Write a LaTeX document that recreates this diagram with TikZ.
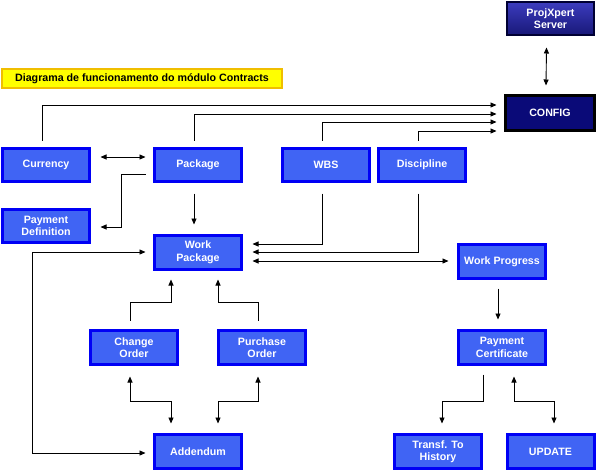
\documentclass[tikz,border=0pt]{standalone}
\usepackage{fontspec}
\setmainfont{Liberation Sans}
\usetikzlibrary{arrows.meta}
\definecolor{boxfill}{RGB}{64,100,244}
\definecolor{boxline}{RGB}{0,0,245}
\definecolor{navy}{RGB}{10,10,120}
\definecolor{srvtop}{RGB}{60,60,190}
\definecolor{srvbot}{RGB}{24,24,120}
\definecolor{titlefill}{RGB}{255,255,0}
\definecolor{titleline}{RGB}{240,190,0}
\tikzset{
  blk/.style={draw=boxline, fill=boxfill, line width=3pt, minimum width=87pt, minimum height=33pt,
    inner sep=0pt, align=center, text=white, font=\fontsize{10.67}{12.5}\selectfont\bfseries},
  blkt/.style={blk, minimum height=34pt},
  arr/.style={-{Triangle[length=6pt,width=5pt]}, line width=0.9pt},
  darr/.style={{Triangle[length=6pt,width=5pt]}-{Triangle[length=6pt,width=5pt]}, line width=0.9pt},
  ln/.style={line width=0.9pt}
}
\begin{document}
\begin{tikzpicture}[x=1pt,y=-1pt]
\useasboundingbox (0,0) rectangle (596,471);
% title
\node[draw=titleline, fill=titlefill, line width=2pt, minimum width=280pt, minimum height=19pt, inner sep=0pt,
  font=\fontsize{10.67}{12.5}\selectfont\bfseries] (title) at (142,78.5) {Diagrama de funcionamento do módulo Contracts};
% server and config
\node[draw=black!80!blue, top color=srvtop, bottom color=srvbot, line width=2pt, minimum width=87pt, minimum height=33pt,
  inner sep=0pt, align=center, text=white, font=\fontsize{10.67}{12.5}\selectfont\bfseries] (projx) at (550.5,18.5) {ProjXpert\\Server};
\node[draw=black, fill=navy, line width=3pt, minimum width=89pt, minimum height=35pt, inner sep=0pt,
  text=white, font=\fontsize{10.67}{12.5}\selectfont\bfseries] (config) at (550,113) {CONFIG};
% blue boxes
\node[blk] (currency) at (46,165) {Currency};
\node[blk] (package) at (198,165) {Package};
\node[blk] (wbs) at (326,165) {WBS};
\node[blk] (discipline) at (422,165) {Discipline};
\node[blk] (paydef) at (46,226) {Payment\\Definition};
\node[blkt] (workpkg) at (198,252.5) {Work\\Package};
\node[blkt] (workprog) at (502,261.5) {Work Progress};
\node[blkt] (change) at (134,347.5) {Change\\Order};
\node[blkt] (purchase) at (262,347.5) {Purchase\\Order};
\node[blkt] (paycert) at (502,347.5) {Payment\\Certificate};
\node[blkt] (addendum) at (198,451.5) {Addendum};
\node[blkt] (transf) at (438,451.5) {Transf. To\\History};
\node[blkt] (update) at (550.5,451.5) {UPDATE};
% connectors to CONFIG
\draw[arr] ([shift={(-4,-6.5)}]currency.north) |- ([shift={(-7.5,-8)}]config.west);
\draw[arr] ([shift={(-4,-6.5)}]package.north) |- ([shift={(-7.5,1)}]config.west);
\draw[arr] ([shift={(-4,-6.5)}]wbs.north) |- ([shift={(-7.5,9)}]config.west);
\draw[arr] ([shift={(-4,-6.5)}]discipline.north) |- ([shift={(-7.5,18)}]config.west);
\draw[darr] ([shift={(-4,11.5)}]projx.south) -- ([shift={(-4,-8.5)}]config.north);
% top row
\draw[darr] ([shift={(9.5,-8)}]currency.east) -- ([shift={(-7.5,-8)}]package.west);
\draw[arr] ([shift={(-7.5,9)}]package.west) -- ++(-24,0) |- ([shift={(9.5,1)}]paydef.east);
\draw[arr] ([shift={(-4,10.5)}]package.south) -- ([shift={(-4,-9.5)}]workpkg.north);
\draw[arr] ([shift={(-4,10.5)}]wbs.south) |- ([shift={(9.5,-8.5)}]workpkg.east);
\draw[arr] ([shift={(-4,10.5)}]discipline.south) |- ([shift={(9.5,-0.5)}]workpkg.east);
\draw[darr] ([shift={(9.5,8.5)}]workpkg.east) -- ([shift={(-8.5,-0.5)}]workprog.west);
\draw[darr] ([shift={(-7.5,-0.5)}]workpkg.west) -- ++(-113,0) |- ([shift={(-7.5,1.5)}]addendum.west);
% orders
\draw[arr] ([shift={(-4,-8.5)}]change.north) -- ++(0,-18) -| ([shift={(-27,8.5)}]workpkg.south);
\draw[arr] ([shift={(-4,-8.5)}]purchase.north) -- ++(0,-18) -| ([shift={(20,8.5)}]workpkg.south);
\draw[darr] ([shift={(-4,10.5)}]change.south) -- ++(0,25) -| ([shift={(-27,-9.5)}]addendum.north);
\draw[darr] ([shift={(-4,10.5)}]purchase.south) -- ++(0,25) -| ([shift={(20,-9.5)}]addendum.north);
% payment side
\draw[arr] ([shift={(-4,8.5)}]workprog.south) -- ([shift={(-4,-9.5)}]paycert.north);
\draw[arr] ([shift={(-19,8.5)}]paycert.south) -- ++(0,27) -| ([shift={(4,-9.5)}]transf.north);
\draw[darr] ([shift={(12,10.5)}]paycert.south) -- ++(0,25) -| ([shift={(3.5,-9.5)}]update.north);
\end{tikzpicture}
\end{document}
